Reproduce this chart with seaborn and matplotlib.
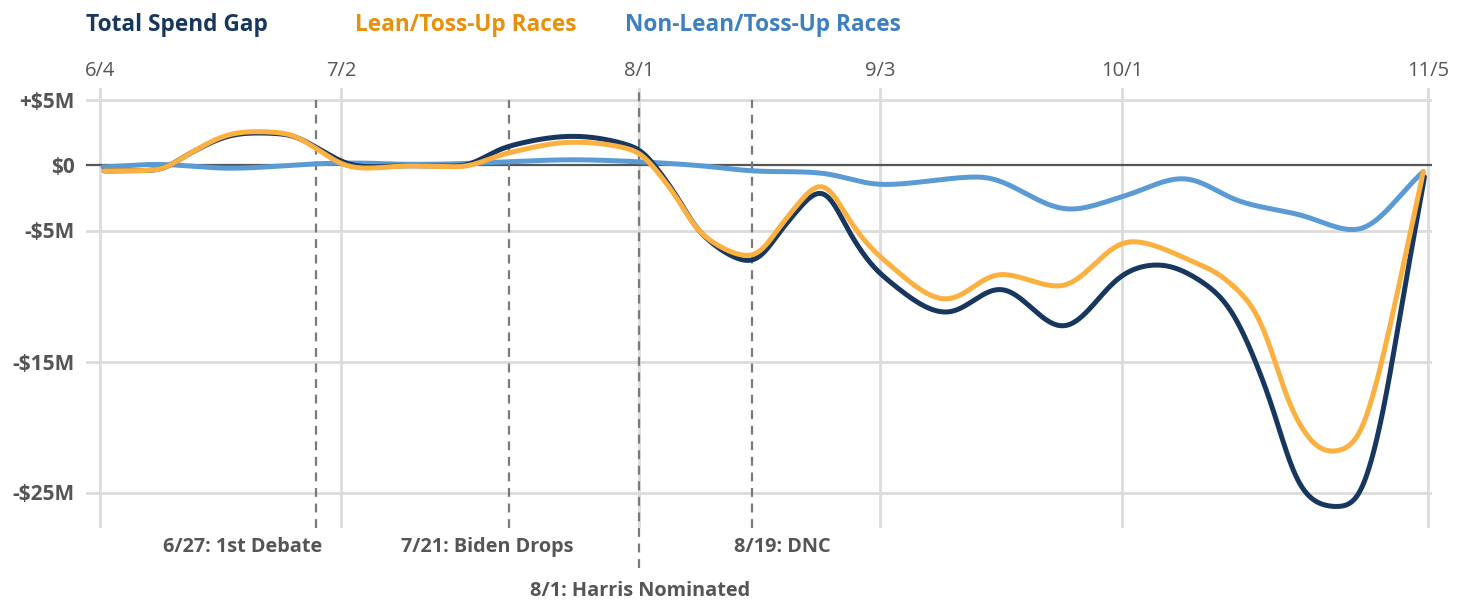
import numpy as np
import pandas as pd
import matplotlib
matplotlib.use("Agg")
import matplotlib.pyplot as plt
import seaborn as sns

# ---------------- data (x in weekly index units, values in $M) ----------------
total_x = [0.07, 0.94, 1.49, 2.04, 2.53, 3.15, 3.60, 4.03, 4.42, 5.14, 5.96, 6.74, 7.84,
           8.91, 9.16, 9.56, 9.94, 10.80, 11.38, 11.96, 12.48, 12.92, 14.03, 14.91, 15.95,
           16.93, 17.53, 18.22, 18.77, 19.33, 19.88, 20.54, 20.87, 21.26, 21.54, 21.94]
total_v = [-0.45, -0.4, 0.9, 2.1, 2.45, 2.3, 1.3, 0.2, -0.15, -0.05, -0.1, 1.4, 2.2,
           1.3, 0.15, -2.4, -5.2, -7.4, -4.4, -1.9, -5.7, -8.3, -11.3, -9.4, -12.4,
           -8.4, -7.6, -8.8, -11.3, -17.2, -24.6, -26.1, -25.3, -18.9, -11.3, -0.9]

lean_x = [0.07, 0.94, 1.49, 2.04, 2.53, 3.15, 3.60, 4.03, 4.42, 5.14, 5.96, 6.74, 7.84,
          8.91, 9.16, 9.56, 9.94, 10.80, 11.38, 11.96, 12.48, 12.92, 14.03, 14.91, 15.90,
          17.06, 18.22, 18.67, 19.22, 19.76, 20.34, 20.83, 21.09, 21.42, 21.92]
lean_v = [-0.45, -0.4, 0.9, 2.2, 2.55, 2.35, 1.2, 0.0, -0.25, -0.05, -0.15, 0.9, 1.75,
          1.05, -0.1, -2.5, -5.2, -7.0, -4.0, -1.4, -4.7, -7.0, -10.3, -8.3, -9.3,
          -5.8, -7.6, -8.8, -11.8, -18.9, -21.9, -21.0, -17.7, -11.3, -0.5]

nonlean_x = [0.05, 0.94, 2.15, 3.60, 4.26, 5.14, 5.96, 6.74, 7.84, 8.91, 9.94, 10.80,
             11.93, 12.97, 14.58, 16.07, 16.95, 17.94, 18.89, 19.88, 20.79, 21.92]
nonlean_v = [-0.15, 0.05, -0.25, 0.1, 0.15, 0.05, 0.1, 0.25, 0.4, 0.25, -0.05, -0.45,
             -0.6, -1.5, -0.9, -3.4, -2.4, -1.0, -2.8, -3.8, -5.0, -0.5]

series_names = ["Total Spend Gap", "Lean/Toss-Up Races", "Non-Lean/Toss-Up Races"]
series_colors = ["#17375e", "#fbb040", "#5b9bd5"]
title_colors = ["#17375e", "#e8900c", "#3f80c0"]

tick_pos = [0, 4, 8.93, 12.92, 16.93, 22]
tick_labels = ["6/4", "7/2", "8/1", "9/3", "10/1", "11/5"]
ytick_vals = [5, 0, -5, -15, -25]
ytick_labels = ["+$5M", "$0", "-$5M", "-$15M", "-$25M"]

event_pos = [3.58, 6.78, 8.93, 10.80]
event_labels = ["6/27: 1st Debate", "7/21: Biden Drops", "8/1: Harris Nominated", "8/19: DNC"]
event_label_x = [3.69, 6.41, 8.95, 11.30]
event_label_ha = ["right", "center", "center", "center"]
event_label_row = [0, 0, 1, 0]


def smooth(x, y, xn, sigma=0.13):
    """Monotonicity-limited cubic Hermite with centred tangents, lightly softened."""
    x = np.asarray(x, float); y = np.asarray(y, float)
    h = np.diff(x); d = np.diff(y) / h
    n = len(x); m = np.zeros(n)
    for k in range(1, n - 1):
        if d[k - 1] * d[k] > 0:
            mk = (y[k + 1] - y[k - 1]) / (x[k + 1] - x[k - 1])
            lim = 3 * min(abs(d[k - 1]), abs(d[k]))
            m[k] = np.sign(mk) * min(abs(mk), lim)
    m[0] = d[0]; m[-1] = d[-1]
    idx = np.clip(np.searchsorted(x, xn) - 1, 0, n - 2)
    t = (xn - x[idx]) / h[idx]
    h00 = 2 * t**3 - 3 * t**2 + 1; h10 = t**3 - 2 * t**2 + t
    h01 = -2 * t**3 + 3 * t**2; h11 = t**3 - t**2
    yn = h00 * y[idx] + h10 * h[idx] * m[idx] + h01 * y[idx + 1] + h11 * h[idx] * m[idx + 1]
    # soften kinks with a small gaussian kernel (edge padded)
    step = xn[1] - xn[0]
    r = int(3 * sigma / step)
    kern = np.exp(-0.5 * (np.arange(-r, r + 1) * step / sigma) ** 2)
    kern /= kern.sum()
    padded = np.concatenate([np.full(r, yn[0]), yn, np.full(r, yn[-1])])
    out = np.convolve(padded, kern, mode="valid")
    # keep endpoints anchored
    w = np.clip((xn - xn[0]) / (3 * sigma), 0, 1) * np.clip((xn[-1] - xn) / (3 * sigma), 0, 1)
    return w * out + (1 - w) * yn


frames = []
for name, xs, vs in zip(series_names, [total_x, lean_x, nonlean_x], [total_v, lean_v, nonlean_v]):
    xn = np.linspace(xs[0], xs[-1], 3000)
    frames.append(pd.DataFrame({"x": xn, "v": smooth(xs, vs, xn), "series": name}))
df = pd.concat(frames, ignore_index=True)

# ---------------- figure ----------------
sns.set_theme(style="white")
plt.rcParams["font.family"] = ["Open Sans", "DejaVu Sans"]

W, H = 1468, 602
fig = plt.figure(figsize=(W / 100, H / 100), dpi=100)
ax_l, ax_r, ax_t, ax_b = 86, 1432, 88, 528
ax = fig.add_axes([ax_l / W, 1 - ax_b / H, (ax_r - ax_l) / W, (ax_b - ax_t) / H])

px_per_x = 60.36
ax.set_xlim(-(100 - ax_l) / px_per_x, 22 + (ax_r - 1428) / px_per_x)
px_per_v = 13.1
ax.set_ylim(-(ax_b - 165) / px_per_v, (165 - ax_t) / px_per_v)

for s in ax.spines.values():
    s.set_visible(False)

# grid lines
for yv in ytick_vals:
    if yv != 0:
        ax.axhline(yv, color="#dcdcdc", lw=2.0, zorder=0)
for xv in tick_pos:
    ax.axvline(xv, color="#dcdcdc", lw=2.0, zorder=0)
ax.axhline(0, color="#555555", lw=1.6, zorder=1)

# event lines and labels
for i, (ep, lab) in enumerate(zip(event_pos, event_labels)):
    if event_label_row[i] == 1:
        ax.axvline(ep, ymin=-0.09, ymax=1.0, color="#7a7a7a", lw=1.6, ls=(0, (4, 3)),
                   zorder=1.5, clip_on=False)
    else:
        ax.axvline(ep, ymin=0, ymax=(ax_b - 100) / (ax_b - ax_t), color="#7a7a7a", lw=1.6,
                   ls=(0, (4, 3)), zorder=1.5)
    ty = 547 if event_label_row[i] == 0 else 591
    ax.text(event_label_x[i], 1 - (ty - ax_t) / (ax_b - ax_t), lab,
            transform=ax.get_xaxis_transform(), ha=event_label_ha[i], va="center",
            fontsize=14.3, fontweight="bold", color="#555555", clip_on=False)

sns.lineplot(data=df, x="x", y="v", hue="series", sort=False,
             hue_order=[series_names[2], series_names[0], series_names[1]],
             palette={n: c for n, c in zip(series_names, series_colors)},
             linewidth=3.6, legend=False, ax=ax, zorder=3,
             solid_capstyle="round", solid_joinstyle="round")

# ticks
ax.xaxis.tick_top()
ax.set_xticks(tick_pos)
ax.set_xticklabels(tick_labels)
ax.set_yticks(ytick_vals)
ax.set_yticklabels(ytick_labels)
ax.tick_params(axis="x", length=0, pad=5, labelsize=14.5, labelcolor="#555555")
ax.tick_params(axis="y", length=0, pad=8, labelsize=15, labelcolor="#555555")
for t in ax.get_yticklabels():
    t.set_fontweight("bold")
ax.set_xlabel("")
ax.set_ylabel("")

# legend-like title row
title_x = [86, 355, 625]
for name, c, tx in zip(series_names, title_colors, title_x):
    fig.text(tx / W, 1 - 25 / H, name, ha="left", va="center", fontsize=16.3,
             fontweight="bold", color=c)

fig.savefig("out.png", dpi=100, facecolor="white")
